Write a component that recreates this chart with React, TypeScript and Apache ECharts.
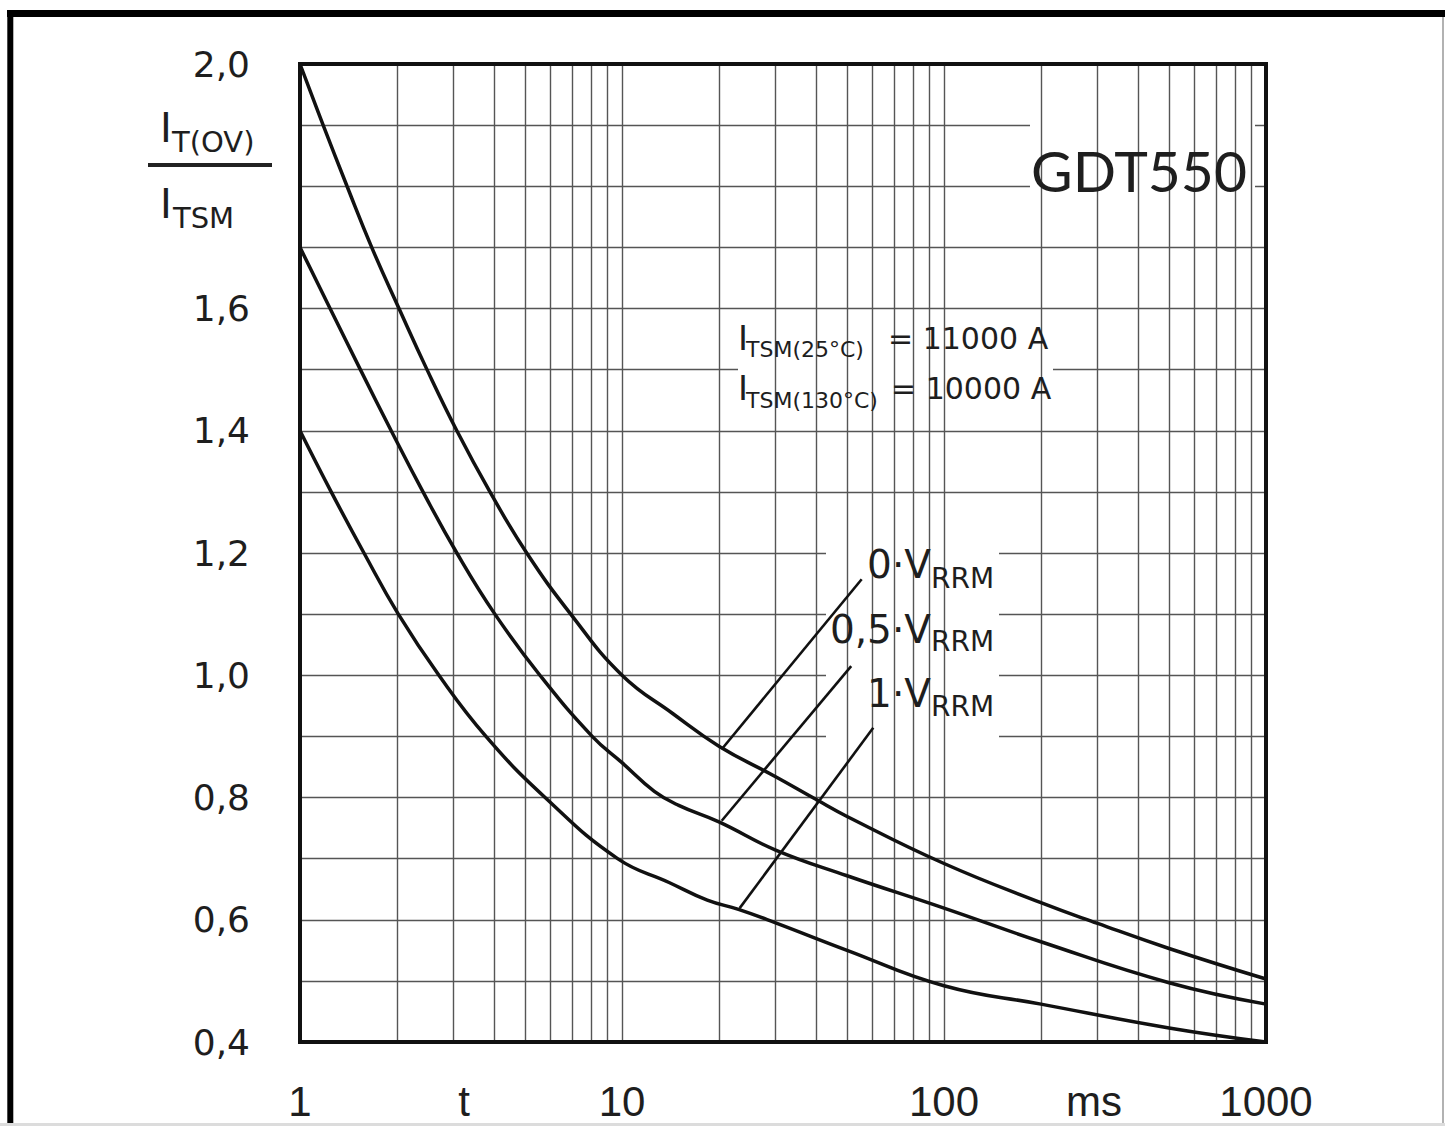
import React, { useEffect, useRef } from "react";
import * as echarts from "echarts";

// ---- data (t in ms, value = I_T(OV) / I_TSM) ----
const curve0VRRM: number[][] = [
  [1, 2.0], [1.18, 1.9], [1.4, 1.8], [1.67, 1.7], [2.03, 1.6], [2.48, 1.5], [3.07, 1.4], [3.89, 1.3],
  [5.06, 1.2], [6.93, 1.1], [10, 1.0], [14.4, 0.937], [20, 0.884], [30, 0.834], [40, 0.797], [50, 0.769],
  [100, 0.692], [200, 0.628], [300, 0.594], [500, 0.553], [1000, 0.503],
];
const curve05VRRM: number[][] = [
  [1, 1.7], [1.24, 1.6], [1.54, 1.5], [1.92, 1.4], [2.41, 1.3], [3.07, 1.2], [4.03, 1.1], [5.56, 1.0],
  [8.08, 0.9], [10, 0.857], [12.6, 0.81], [15, 0.787], [20, 0.76], [30, 0.714], [50, 0.672], [100, 0.619],
  [200, 0.564], [500, 0.497], [1000, 0.462],
];
const curve1VRRM: number[][] = [
  [1, 1.4], [1.25, 1.3], [1.58, 1.2], [2.02, 1.1], [2.7, 1.0], [3.78, 0.9], [5.77, 0.8], [9.69, 0.7],
  [14, 0.661], [18.4, 0.632], [23, 0.617], [30, 0.595], [50, 0.55], [100, 0.492], [200, 0.462],
  [500, 0.423], [1000, 0.4],
];
const seriesNames = ["0·VRRM", "0,5·VRRM", "1·VRRM"];
// leader lines from label to curve (data coordinates)
const leaderLines: number[][][] = [
  [[20.4, 0.879], [55.5, 1.157]],
  [[20.4, 0.762], [51.5, 1.015]],
  [[23.2, 0.619], [60.3, 0.914]],
];
const xGridValues = [
  2, 3, 4, 5, 6, 7, 8, 9, 10, 20, 30, 40, 50, 60, 70, 80, 90, 100,
  200, 300, 400, 500, 600, 700, 800, 900,
];
const yMin = 0.4;
const yMax = 2.0;
const yStep = 0.1;
const xMin = 1;
const xMax = 1000;

const DJ = "DejaVu Sans";
const LIB = "Liberation Sans";
const INK = "#1e1e1e";

export default function App() {
  const ref = useRef<HTMLDivElement>(null);
  useEffect(() => {
    if (!ref.current) return;
    const chart = echarts.init(ref.current, undefined, { renderer: "svg" });

    const txt = (text: string, x: number, y: number, size: number, align = "left", family = DJ, z = 8) => ({
      type: "text",
      x,
      y,
      z,
      silent: true,
      style: { text, fontSize: size, fontFamily: family, fill: INK, align, verticalAlign: "middle" },
    });
    const whiteBox = (x: number, y: number, w: number, h: number) => ({
      type: "rect",
      z: 3,
      silent: true,
      shape: { x, y, width: w, height: h },
      style: { fill: "#ffffff" },
    });

    const curves = [curve0VRRM, curve05VRRM, curve1VRRM].map((d, i) => ({
      name: seriesNames[i],
      type: "line",
      data: d,
      smooth: 0.45,
      showSymbol: false,
      z: 5,
      silent: true,
      lineStyle: { color: "#111", width: 3.5 },
    }));

    chart.setOption({
      animation: false,
      backgroundColor: "#ffffff",
      grid: { left: 300, top: 64, width: 966, height: 978, containLabel: false },
      xAxis: {
        type: "log",
        logBase: 10,
        min: xMin,
        max: xMax,
        axisLine: { show: false },
        axisTick: { show: false },
        splitLine: { show: false },
        axisLabel: {
          fontFamily: LIB,
          fontSize: 42,
          color: INK,
          margin: 38,
          formatter: (v: number) => String(Math.round(v)),
        },
      },
      yAxis: {
        type: "value",
        min: yMin,
        max: yMax,
        interval: yStep,
        axisLine: { show: false },
        axisTick: { show: false },
        splitLine: { show: true, lineStyle: { color: "#555", width: 1.4 } },
        axisLabel: {
          fontFamily: DJ,
          fontSize: 36,
          color: INK,
          margin: 50,
          formatter: (v: number) => {
            const k = Math.round(v * 10);
            if (k % 2 !== 0 || k === 18) return "";
            return (k / 10).toFixed(1).replace(".", ",");
          },
        },
      },
      series: [
        {
          name: "grid",
          type: "line",
          data: [[xMin, yMin]],
          showSymbol: false,
          lineStyle: { opacity: 0 },
          z: 1,
          silent: true,
          markLine: {
            silent: true,
            symbol: ["none", "none"],
            label: { show: false },
            lineStyle: { color: "#555", width: 1.4, type: "solid" },
            emphasis: { disabled: true },
            data: xGridValues.map((v) => ({ xAxis: v })),
          },
        },
        ...curves,
        {
          name: "leaders",
          type: "line",
          data: [[xMin, yMin]],
          showSymbol: false,
          lineStyle: { opacity: 0 },
          z: 6,
          silent: true,
          markLine: {
            silent: true,
            symbol: ["none", "none"],
            label: { show: false },
            lineStyle: { color: "#111", width: 2.6, type: "solid" },
            emphasis: { disabled: true },
            data: leaderLines.map((l) => [{ coord: l[0] }, { coord: l[1] }]),
          },
        },
      ],
      graphic: {
        elements: [
          // label backgrounds hiding the grid
          whiteBox(1030, 123, 225, 83),
          whiteBox(738, 315, 315, 103),
          whiteBox(826, 535, 173, 260),
          // plot frame
          {
            type: "rect",
            z: 10,
            silent: true,
            shape: { x: 300, y: 64, width: 966, height: 978 },
            style: { fill: "none", stroke: "#111", lineWidth: 4 },
          },
          // outer frame
          { type: "line", z: 10, silent: true, shape: { x1: 7, y1: 13.5, x2: 1445, y2: 13.5 }, style: { stroke: "#000", lineWidth: 7 } },
          { type: "line", z: 10, silent: true, shape: { x1: 10.3, y1: 10, x2: 10.3, y2: 1126 }, style: { stroke: "#000", lineWidth: 6 } },
          { type: "line", z: 10, silent: true, shape: { x1: 1443, y1: 17, x2: 1443, y2: 1126 }, style: { stroke: "#999", lineWidth: 1.5 } },
          { type: "rect", z: 10, silent: true, shape: { x: 0, y: 1123, width: 1445, height: 3 }, style: { fill: "#dcdcdc" } },
          // y-axis name as a fraction
          txt("I", 160, 128, 40),
          txt("T(OV)", 172, 142, 29),
          { type: "line", z: 8, silent: true, shape: { x1: 148, y1: 165, x2: 272, y2: 165 }, style: { stroke: "#222", lineWidth: 4 } },
          txt("I", 160, 204, 40),
          txt("TSM", 173, 218, 29),
          // x-axis names
          txt("t", 464, 1101, 42, "center", LIB),
          txt("ms", 1094, 1101, 42, "center", LIB),
          // device name
          txt("GDT550", 1139, 170, 57, "center", "Lato"),
          // I_TSM values
          txt("I", 738, 338, 34),
          txt("TSM(25°C)", 746, 349, 22),
          txt("= 11000 A", 888, 338, 30),
          txt("I", 738, 388, 34),
          txt("TSM(130°C)", 746, 400, 22),
          txt("= 10000 A", 891, 388, 30),
          // curve labels
          txt("0·V", 931, 564, 39, "right"),
          txt("RRM", 931, 578, 28),
          txt("0,5·V", 931, 629, 39, "right"),
          txt("RRM", 931, 641, 28),
          txt("1·V", 931, 693, 39, "right"),
          txt("RRM", 931, 706, 28),
        ],
      },
    });
    return () => chart.dispose();
  }, []);
  return (
    <div
      ref={ref}
      style={{ position: "absolute", left: 0, top: 0, width: 1445, height: 1126, background: "#fff" }}
    />
  );
}
